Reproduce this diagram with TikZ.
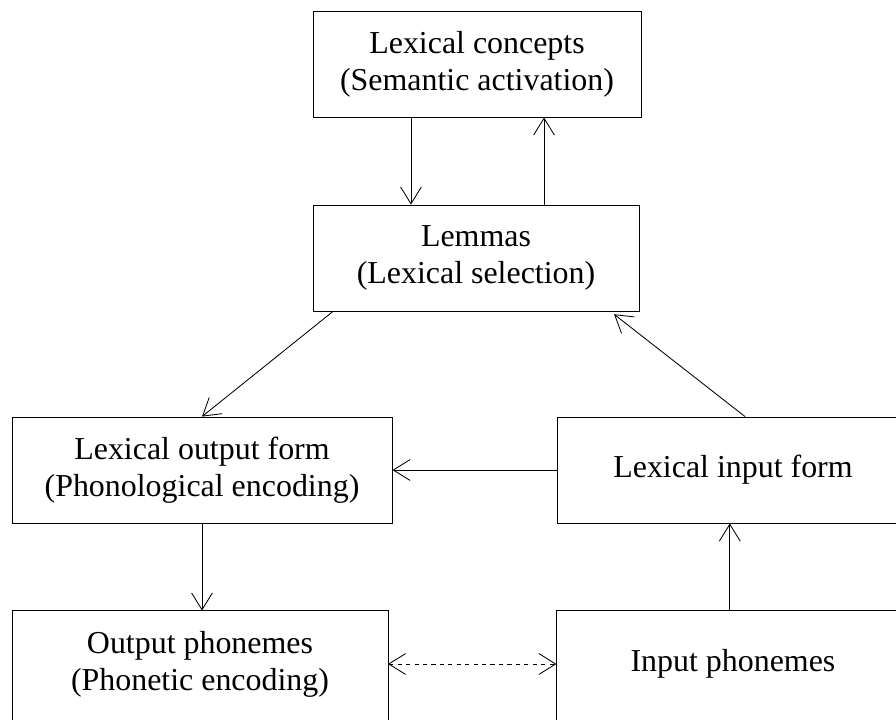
\documentclass[tikz,border=0pt]{standalone}
\usepackage{fontspec}
\setmainfont{Liberation Serif}
\usepackage{tikz}
\usetikzlibrary{arrows.meta, calc, positioning}

\begin{document}
\begin{tikzpicture}[x=0.025cm, y=-0.025cm,
    >={Straight Barb[length=4.2mm, width=5.2mm]}, line width=0.6pt,
    box/.style={draw, align=center, minimum height=2.65cm, inner sep=0pt,
        font=\fontsize{22.7pt}{26.5pt}\selectfont},
    openbox/.style={box, draw=none}]
    \useasboundingbox (0,0) rectangle (896,719);
    \clip (0,0) rectangle (896,719);

    % 1. Các khối
    \node[box, minimum width=8.2cm]   (lc)  at (477,64)  {Lexical concepts\\(Semantic activation)};
    \node[box, minimum width=8.15cm]  (lem) at (476,258) {Lemmas\\(Lexical selection)};
    \node[box, minimum width=9.5cm]   (lof) at (202,470) {Lexical output form\\(Phonological encoding)};
    \node[box, minimum width=8.8cm]   (lif) at (733,470) {Lexical input form};
    \node[openbox, minimum width=9.375cm] (oph) at (200,664) {Output phonemes\\(Phonetic encoding)};
    \node[openbox, minimum width=8.8cm]   (iph) at (733,664) {Input phonemes};

    % hai khối dưới bị cắt ở mép dưới
    \draw ([yshift=-0.3cm]oph.south west) -- (oph.north west) -- (oph.north east) -- ([yshift=-0.3cm]oph.south east);
    \draw ([yshift=-0.3cm]iph.south west) -- (iph.north west) -- (iph.north east) -- ([yshift=-0.3cm]iph.south east);

    % 2. Mũi tên giữa các khối
    \draw[->] ([xshift=-1.65cm]lc.south) -- ([xshift=-1.65cm]lc.south |- lem.north);
    \draw[->] ([xshift=1.7cm]lem.north) -- ([xshift=1.7cm]lem.north |- lc.south);
    \draw[->] ([xshift=-3.575cm]lem.south) -- (lof.north);
    \draw[->] ([xshift=0.3cm]lif.north) -- ([xshift=3.45cm, yshift=-0.07cm]lem.south);
    \draw[->] (lif.west) -- (lof.east);
    \draw[->] (lof.south) -- (lof.south |- oph.north);
    \draw[->] ([xshift=-0.08cm]iph.north) -- ([xshift=-0.08cm]iph.north |- lif.south);

    % 3. Mũi tên nét đứt
    \draw[<->, dashed] (oph.east) -- (iph.west);
\end{tikzpicture}
\end{document}
